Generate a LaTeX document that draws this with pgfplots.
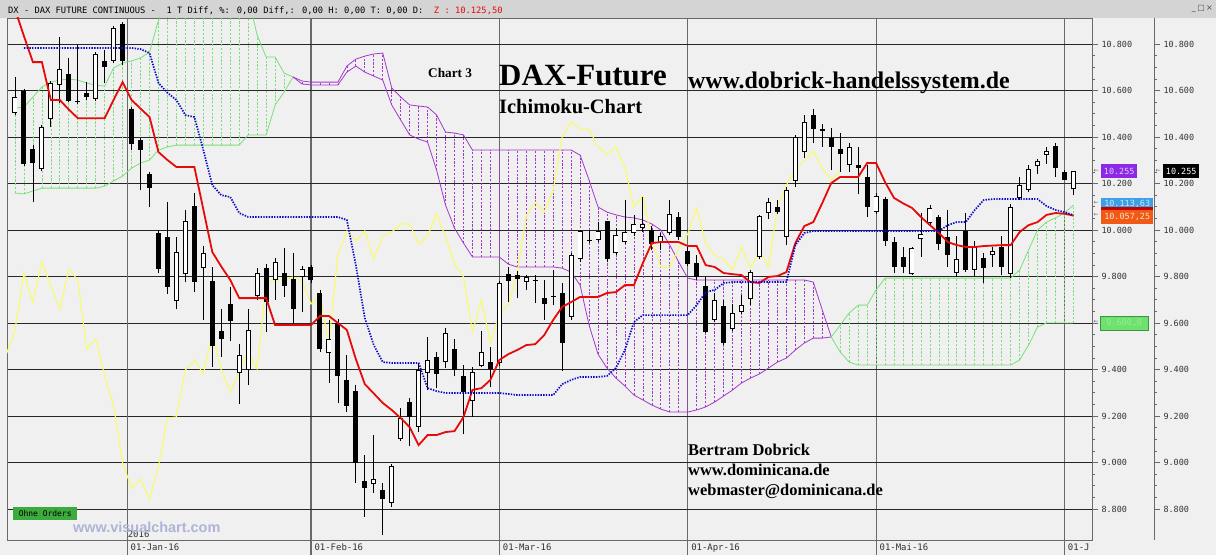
\documentclass[border=0pt]{standalone}
\usepackage{fontspec}
\setmainfont{Liberation Serif}
\setsansfont{Liberation Sans}
\newfontfamily\dvs{DejaVu Sans}
\newfontfamily\mono{DejaVu Sans Mono}
\usepackage{pgfplots}
\usepackage{pgfplotstable}
\pgfplotsset{compat=1.18}

\definecolor{bgray}{RGB}{240,240,240}
\definecolor{barg}{RGB}{212,212,212}
\definecolor{redl}{RGB}{230,10,10}
\definecolor{bluel}{RGB}{10,10,200}
\definecolor{yell}{RGB}{250,250,110}
\definecolor{cgreen}{RGB}{120,225,120}
\definecolor{cpurp}{RGB}{165,55,205}
\definecolor{mline}{RGB}{105,105,105}
\definecolor{ogreen}{RGB}{60,170,60}
\definecolor{vcol}{RGB}{175,180,215}
\definecolor{boxpurp}{RGB}{140,40,230}
\definecolor{boxblue}{RGB}{60,160,230}
\definecolor{boxred}{RGB}{200,0,0}
\definecolor{boxorg}{RGB}{240,90,20}
\definecolor{boxgrn}{RGB}{110,225,110}

% i = trading day, O H L C, cloud upper/lower edge, red line, blue line
\pgfplotstableread{
i O H L C up lo red blue
0 10503 10658 10494 10572 10524 10159 10950 nan
1 10598 10606 10275 10284 10529 10155 10834 10783
2 10348 10365 10120 10288 10572 10168 10722 10783
3 10262 10451 10254 10443 10615 10180 10722 10783
4 10477 10641 10443 10632 10636 10180 10559 10783
5 10623 10830 10546 10692 10645 10180 10559 10783
6 10671 10740 10550 10555 10649 10180 10518 10783
7 10555 10796 10542 10550 10645 10180 10481 10783
8 10589 10636 10559 10572 10632 10180 10481 10783
9 10563 10765 10555 10757 10623 10180 10481 10783
10 10727 10774 10632 10701 10619 10189 10481 10783
11 10727 10877 10718 10869 10697 10211 10560 10783
12 10886 10894 10710 10727 10718 10232 10636 10783
13 10520 10529 10344 10370 10727 10266 10559 10783
14 10387 10396 10172 10344 10740 10288 10522 10778
15 10241 10249 10099 10180 10765 10301 10486 10761
16 9987 10000 9815 9832 10903 10344 10335 10632
17 9970 10120 9725 9755 11000 10357 10301 10590
18 9695 9970 9660 9905 11000 10365 10271 10559
19 9810 10086 9776 10039 11000 10365 10271 10494
20 10103 10159 9733 9776 11000 10365 10271 10486
21 9836 9931 9613 9901 11000 10365 10088 10344
22 9781 9841 9411 9501 11000 10365 9905 10193
23 9566 9660 9454 9531 11000 10365 9843 10150
24 9682 9755 9522 9609 11000 10365 9785 10142
25 9385 9510 9252 9462 11000 10365 9707 10073
26 9398 9660 9333 9570 11000 10409 9707 10056
27 9716 9836 9699 9815 10838 10409 9707 10056
28 9836 9854 9561 9690 10744 10409 9707 10056
29 9785 9880 9699 9862 10744 10537 9591 10056
30 9815 9923 9712 9759 10675 10593 9591 10056
31 9789 9901 9600 9660 10658 10658 9591 10056
32 9798 9845 9647 9832 10641 10628 9591 10056
33 9841 9849 9772 9785 10636 10624 9591 10056
34 9729 9742 9475 9488 10636 10624 9630 10056
35 9471 9613 9342 9531 10636 10624 9630 10056
36 9600 9617 9256 9372 10636 10624 9600 10056
37 9355 9462 9217 9243 10705 10679 9570 10043
38 9308 9333 8912 8998 10735 10705 9445 9849
39 8920 9032 8766 8890 10748 10679 9337 9621
40 8908 9118 8869 8929 10757 10662 9297 9505
41 8882 8912 8688 8843 10761 10645 9256 9432
42 8826 8994 8809 8985 10611 10538 9226 9428
43 9101 9234 9093 9191 10572 10473 9191 9428
44 9260 9277 9071 9196 10538 10409 9152 9428
45 9153 9428 9131 9398 10533 10391 9075 9428
46 9385 9540 9312 9441 10529 10378 9118 9320
47 9454 9475 9320 9381 10495 10258 9118 9307
48 9432 9579 9406 9557 10421 10107 9131 9299
49 9488 9531 9372 9398 10417 10008 9135 9299
50 9372 9419 9123 9303 10409 9944 9195 9299
51 9265 9411 9196 9389 10344 9884 9312 9299
52 9415 9566 9411 9475 10344 9884 9320 9299
53 9432 9497 9325 9402 10344 9884 9355 9299
54 9428 9781 9415 9772 10344 9884 9441 9299
55 9811 9841 9690 9781 10344 9853 9466 9295
56 9806 9824 9707 9789 10344 9841 9484 9290
57 9776 9806 9742 9798 10344 9841 9505 9290
58 9781 9806 9686 9781 10344 9841 9509 9290
59 9707 9785 9613 9682 10344 9841 9548 9290
60 9712 9828 9677 9712 10344 9841 9613 9290
61 9729 9772 9394 9514 10344 9836 9669 9337
62 9626 9901 9613 9892 10344 9819 9690 9355
63 9875 10000 9862 9996 10322 9763 9712 9368
64 9953 10000 9944 9953 10215 9591 9712 9368
65 9957 10034 9948 9996 10099 9466 9712 9368
66 10039 10039 9862 9875 10077 9406 9729 9372
67 9901 10009 9892 9978 10065 9363 9733 9407
68 9948 10129 9940 9991 10056 9329 9763 9484
69 9987 10065 9974 10026 10052 9290 9763 9604
70 10009 10142 9991 10026 10043 9269 9858 9634
71 10000 10017 9914 9940 10026 9247 9944 9634
72 9944 9987 9914 9974 10000 9230 9948 9634
73 9987 10129 9978 10069 9935 9217 9948 9634
74 10056 10077 9957 9970 9862 9217 9948 9634
75 9910 9927 9845 9854 9793 9217 9931 9634
76 9858 9893 9785 9798 9785 9226 9931 9677
77 9759 9798 9557 9561 9785 9239 9849 9733
78 9613 9729 9604 9699 9785 9260 9841 9742
79 9673 9699 9505 9514 9785 9286 9815 9772
80 9574 9682 9566 9643 9785 9312 9810 9776
81 9647 9720 9639 9677 9785 9342 9806 9776
82 9703 9828 9677 9819 9785 9363 9776 9776
83 9884 10065 9875 10060 9785 9381 9772 9776
84 10073 10138 10047 10120 9785 9406 9798 9776
85 10099 10129 10069 10077 9785 9432 9802 9776
86 9970 10185 9935 10172 9785 9449 9819 9776
87 10211 10409 10185 10400 9785 9484 9944 9935
88 10335 10495 10310 10464 9785 9514 10017 9987
89 10495 10520 10374 10434 9776 9535 10034 9996
90 10426 10456 10357 10434 9656 9535 10116 9996
91 10396 10439 10258 10357 9540 9540 10202 9996
92 10348 10417 10249 10327 9591 9475 10228 9996
93 10280 10374 10249 10357 9643 9432 10228 9996
94 10280 10357 10155 10267 9677 9419 10228 9996
95 10228 10280 10056 10099 9677 9419 10288 9996
96 10077 10159 10069 10146 9742 9419 10288 9996
97 10133 10142 9931 9953 9793 9419 10206 9996
98 9948 9970 9815 9841 9793 9419 10138 9996
99 9884 9927 9815 9841 9793 9419 10115 9996
100 9811 9927 9806 9923 9793 9419 10095 9996
101 9961 10073 9884 9983 9793 9419 10056 9996
102 10030 10107 10021 10095 9793 9419 10021 9996
103 10056 10065 9914 9940 9793 9419 9987 9996
104 9970 10086 9841 9892 9793 9419 9948 10021
105 9815 9974 9798 9875 9793 9419 9935 10034
106 9996 10073 9819 9828 9793 9419 9927 10034
107 9828 9953 9798 9927 9793 9419 9927 10086
108 9880 9901 9772 9836 9793 9419 9931 10129
109 9892 9927 9841 9910 9793 9419 9933 10133
110 9927 9974 9806 9841 9793 9419 9935 10133
111 9811 10112 9794 10099 9793 9419 9935 10133
112 10138 10228 10129 10193 9828 9441 9991 10133
113 10172 10280 10163 10262 9914 9505 10021 10133
114 10275 10305 10241 10297 10000 9583 10034 10133
115 10323 10357 10284 10340 10034 9600 10065 10103
116 10361 10374 10228 10267 10052 9600 10073 10086
117 10250 10258 10215 10215 10073 9600 10070 10077
118 10176 10255 10150 10255 10107 9600 10062 10064
}\dax

\pgfplotsset{
  hatch/.style={only marks, mark=*, mark size=0pt, mark options={draw=none, fill=none}, forget plot,
    error bars/y dir=plus, error bars/y explicit, error bars/error mark=none,
    error bars/error bar style={draw=#1, line width=0.7bp, dash pattern=on 2.2bp off 1.6bp}},
  bars/.style 2 args={only marks, mark=*, mark size=0pt, mark options={draw=none, fill=none}, forget plot,
    error bars/y dir=plus, error bars/y explicit, error bars/error mark=none,
    error bars/error bar style={draw=#1, line width=#2}},
  rticks/.style={
    ymin=8666.7, ymax=10911.8,
    ytick={8800,9000,...,10800}, minor y tick num=3,
    ytick align=outside, major tick length=6bp, minor tick length=3bp,
    ytick style={mline, line width=0.6bp},
    yticklabel style={font=\mono\fontsize{8.5}{10}\selectfont, text=black!80},
    scaled y ticks=false,
    /pgf/number format/fixed, /pgf/number format/precision=0,
    /pgf/number format/1000 sep={.}, /pgf/number format/assume math mode=true},
}

\begin{document}
\begin{tikzpicture}
\useasboundingbox (0,0) rectangle (1216bp,-555bp);
\fill[bgray] (0,0) rectangle (1216bp,-555bp);
\fill[barg] (0,0) rectangle (1216bp,-18bp);

\begin{axis}[
  at={(7bp,-540bp)}, anchor=south west,
  scale only axis, width=1085bp, height=522bp,
  xmin=-0.89, xmax=120.07,
  axis line style={mline, line width=0.8bp},
  xtick={33,54,75,96,117},
  xticklabels={01-Feb-16,01-Mar-16,01-Apr-16,01-Mai-16,01-J},
  extra x ticks={12.5}, extra x tick labels={01-Jan-16},
  extra x tick style={grid style={black!20, line width=0.8bp}},
  xmajorgrids, x grid style={mline, line width=1.1bp},
  xtick style={draw=none},
  xticklabel style={font=\mono\fontsize{9}{10}\selectfont, anchor=north west, text=black!80},
  ymajorgrids, y grid style={black!85, line width=0.9bp},
  ytick pos=right, yticklabel pos=right,
  rticks,
]
% cloud
\addplot[hatch=cgreen, restrict x to domain=0:30]
  table[x=i, y=lo, y error expr=\thisrow{up}-\thisrow{lo}] {\dax};
\addplot[hatch=cpurp, restrict x to domain=32:90]
  table[x=i, y=lo, y error expr=\thisrow{up}-\thisrow{lo}] {\dax};
\addplot[hatch=cgreen, restrict x to domain=92:118]
  table[x=i, y=lo, y error expr=\thisrow{up}-\thisrow{lo}] {\dax};
\addplot[cgreen, line width=0.8bp, restrict x to domain=0:31] table[x=i, y=up] {\dax};
\addplot[cgreen, line width=0.8bp, restrict x to domain=0:31] table[x=i, y=lo] {\dax};
\addplot[cpurp, line width=0.8bp, restrict x to domain=31:91] table[x=i, y=up] {\dax};
\addplot[cpurp, line width=0.8bp, restrict x to domain=31:91] table[x=i, y=lo] {\dax};
\addplot[cgreen, line width=0.8bp, restrict x to domain=91:118] table[x=i, y=up] {\dax};
\addplot[cgreen, line width=0.8bp, restrict x to domain=91:118] table[x=i, y=lo] {\dax};
% lagging close, 26 days back
\addplot[yell, line width=1.1bp] table[x expr=\thisrow{i}-26, y=C] {\dax};
% candles
\addplot[bars={black}{0.8bp}]
  table[x=i, y=L, y error expr=\thisrow{H}-\thisrow{L}] {\dax};
\addplot[bars={black}{5bp}]
  table[x=i, y expr={min(\thisrow{O},\thisrow{C})},
        y error expr={max(abs(\thisrow{C}-\thisrow{O}),4)}] {\dax};
\addplot[bars={white}{3.2bp}]
  table[x=i, y expr={ifthenelse(\thisrow{C}>\thisrow{O}+9,\thisrow{O}+4.3,50000)},
        y error expr={max(\thisrow{C}-\thisrow{O}-8.6,0)}] {\dax};
% lines
\addplot[redl, line width=1.8bp] table[x=i, y=red] {\dax};
\addplot[bluel, line width=1.7bp, dash pattern=on 1.4bp off 1.3bp, unbounded coords=jump]
  table[x=i, y=blue] {\dax};

\node[anchor=south west, inner sep=0.5bp, yshift=2bp, font=\mono\fontsize{9}{10}\selectfont, text=black!80]
  at (axis cs:12.5,8666.7) {2016};
\coordinate (mJan) at (axis cs:12.5,8666.7);
\coordinate (mFeb) at (axis cs:33,8666.7);
\coordinate (mMar) at (axis cs:54,8666.7);
\coordinate (mApr) at (axis cs:75,8666.7);
\coordinate (mMai) at (axis cs:96,8666.7);
\coordinate (mJun) at (axis cs:117,8666.7);
\end{axis}

% second price scale
\begin{axis}[
  at={(1092bp,-540bp)}, anchor=south west,
  scale only axis, width=62bp, height=522bp,
  xmin=0, xmax=1,
  axis x line=none, axis y line*=right,
  axis line style={mline, line width=0.8bp},
  rticks,
]
\addplot[draw=none] coordinates {(0.5,9000)};
\end{axis}

\foreach \m in {mFeb,mMar,mApr,mMai,mJun}
  \draw[mline, line width=1.1bp] (\m) -- ++(0,-15bp);
\draw[mline, line width=0.8bp] (mJan) ++(0,9bp) -- ++(0,-24bp);

% title bar
\node[anchor=base west, inner sep=0, font=\mono\fontsize{8.8}{10}\selectfont]
  at (8bp,-13bp) {DX - DAX FUTURE CONTINUOUS -\ \ 1 T Diff, \%: 0,00 Diff,: 0,00 H: 0,00 T: 0,00 D:\ \ \textcolor{redl}{Z : 10.125,50}};
\node[anchor=east, inner sep=0, font=\dvs\fontsize{8}{9}\selectfont, text=black!70]
  at (1213bp,-9bp) {\_\,□\,×};

% annotations
\node[anchor=base west, inner sep=0, font=\bfseries\fontsize{13.3}{15}\selectfont]
  at (428bp,-77bp) {Chart 3};
\node[anchor=base west, inner sep=0, font=\bfseries\fontsize{31}{34}\selectfont]
  at (499bp,-85bp) {DAX-Future};
\node[anchor=base west, inner sep=0, font=\bfseries\fontsize{20.5}{23}\selectfont]
  at (499bp,-113bp) {Ichimoku-Chart};
\node[anchor=base west, inner sep=0, font=\bfseries\fontsize{24}{27}\selectfont]
  at (688bp,-88bp) {www.dobrick-handelssystem.de};
\node[anchor=base west, inner sep=0, font=\bfseries\fontsize{16.5}{18}\selectfont]
  at (688bp,-455bp) {Bertram Dobrick};
\node[anchor=base west, inner sep=0, font=\bfseries\fontsize{16.5}{18}\selectfont]
  at (688bp,-475bp) {www.dominicana.de};
\node[anchor=base west, inner sep=0, font=\bfseries\fontsize{16.5}{18}\selectfont]
  at (688bp,-495bp) {webmaster@dominicana.de};
\node[anchor=north west, fill=ogreen, minimum width=64bp, minimum height=13bp, inner sep=0,
  font=\mono\fontsize{8}{9}\selectfont] at (13bp,-507bp) {Ohne Orders};
\node[anchor=west, inner sep=0, font=\sffamily\bfseries\fontsize{14.5}{16}\selectfont, text=vcol]
  at (73bp,-527bp) {www.visualchart.com};

% value boxes on the price scales
\node[anchor=north west, fill=boxpurp, text={rgb,255:red,225;green,205;blue,255},
  minimum width=36bp, minimum height=14bp, inner sep=0, font=\mono\fontsize{8.5}{9}\selectfont]
  at (1101bp,-164bp) {10.255};
\node[anchor=north west, fill=black, text=white,
  minimum width=36bp, minimum height=14bp, inner sep=0, font=\mono\fontsize{8.5}{9}\selectfont]
  at (1163bp,-164bp) {10.255};
\node[anchor=north west, fill=boxblue, text={rgb,255:red,205;green,230;blue,255},
  minimum width=52bp, minimum height=12bp, inner sep=0, font=\mono\fontsize{8.5}{9}\selectfont]
  at (1101bp,-198bp) {10.113,63};
\fill[boxred] (1101bp,-207bp) rectangle (1153bp,-210bp);
\node[anchor=north west, fill=boxorg, text={rgb,255:red,255;green,225;blue,205},
  minimum width=52bp, minimum height=14bp, inner sep=0, font=\mono\fontsize{8.5}{9}\selectfont]
  at (1101bp,-210bp) {10.057,25};
\node[anchor=north west, fill=boxgrn, draw={rgb,255:red,60;green,150;blue,60},
  text={rgb,255:red,150;green,240;blue,150},
  minimum width=48bp, minimum height=14bp, inner sep=0, font=\mono\fontsize{8.5}{9}\selectfont]
  at (1100bp,-316bp) {9.600,0};
\foreach \yy in {171,203,215,322}
  \node[inner sep=0, font=\dvs\fontsize{6}{7}\selectfont, text=black!60] at (1096bp,-\yy bp) {←};
\node[inner sep=0, font=\dvs\fontsize{6}{7}\selectfont, text=black!60] at (1158bp,-171bp) {←};
\end{tikzpicture}
\end{document}
